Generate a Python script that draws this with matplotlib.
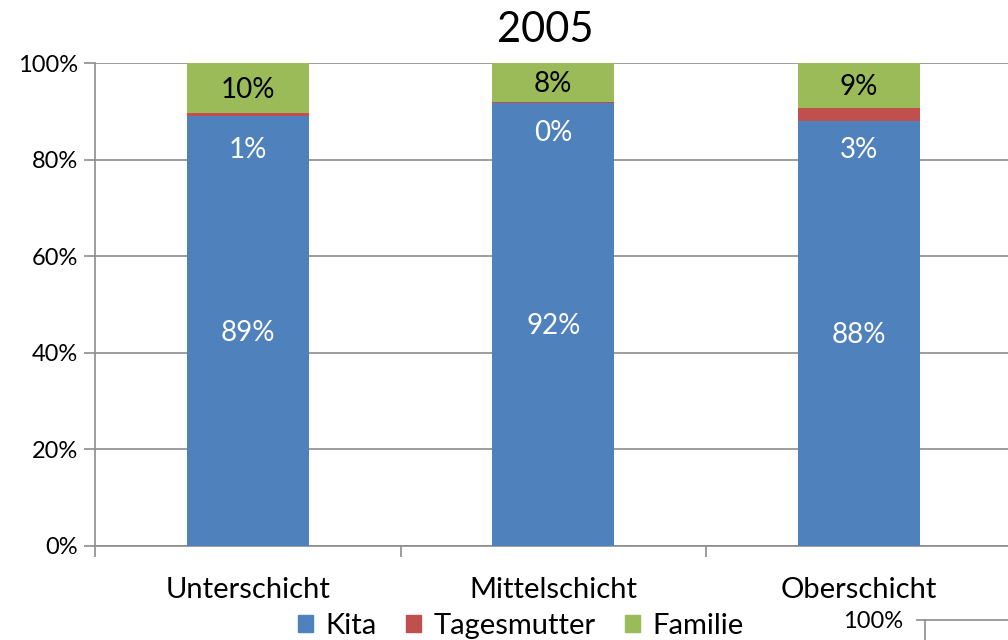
import matplotlib
matplotlib.use("Agg")
import matplotlib.pyplot as plt
from matplotlib.lines import Line2D
from matplotlib.patches import Patch
import numpy as np

plt.rcParams['font.family'] = ['Lato', 'DejaVu Sans']

title = "2005"
categories = ["Unterschicht", "Mittelschicht", "Oberschicht"]
series_names = ["Kita", "Tagesmutter", "Familie"]
kita = [89.0, 91.7, 88.0]
tagesmutter = [0.7, 0.3, 2.7]
familie = [10.3, 8.0, 9.3]
yticks = [0, 20, 40, 60, 80, 100]

colors = ["#4F81BD", "#C0504D", "#9BBB59"]
label_colors = ["white", "white", "black"]
grid_color = "#8C8C8C"

fig = plt.figure(figsize=(10.08, 6.4), dpi=100)
ax = fig.add_axes([95/1008, 1 - 546/640, (1011.5 - 95)/1008, (546 - 63)/640])

x = np.arange(len(categories))
width = 0.4
bottom = np.zeros(len(categories))
series = [kita, tagesmutter, familie]
for vals, name, col, lc in zip(series, series_names, colors, label_colors):
    vals = np.array(vals)
    ax.bar(x, vals, width, bottom=bottom, color=col, label=name, zorder=3)
    centers = bottom + vals / 2
    for i, (xi, c, v) in enumerate(zip(x, centers, vals)):
        if name == "Tagesmutter":
            # small segments: labels pushed down into the Kita segment
            offset = -6.3 if v < 0.5 else -7.3
            ax.text(xi, c + offset, f"{v:.0f}%", ha="center", va="center",
                    color=lc, fontsize=20)
        else:
            ax.text(xi, c - 0.4, f"{v:.0f}%", ha="center", va="center",
                    color=lc, fontsize=20)
    bottom = bottom + vals

ax.set_xlim(-0.5, len(categories) - 0.5)
ax.set_ylim(0, 100)
ax.set_yticks(yticks)
ax.set_yticklabels([f"{t}%" for t in yticks], fontsize=17)
ax.yaxis.grid(True, color=grid_color, linewidth=1.2, zorder=0)
ax.set_axisbelow(True)

ax.set_xticks(x)
ax.set_xticklabels(categories, fontsize=21)
ax.set_xticks(np.arange(-0.5, len(categories)), minor=True)
ax.tick_params(axis="x", which="major", length=0, pad=22)
ax.tick_params(axis="x", which="minor", length=8, color=grid_color, width=1.2)
ax.tick_params(axis="y", length=8, color=grid_color, width=1.2, pad=4)

for s in ["top", "right"]:
    ax.spines[s].set_visible(False)
for s in ["left", "bottom"]:
    ax.spines[s].set_color(grid_color)
    ax.spines[s].set_linewidth(1.2)

fig.text(545/1008, 1 - 30/640, title, ha="center", va="center", fontsize=30)

handles = [Patch(facecolor=c, edgecolor=c) for c in colors]
fig.legend(handles, series_names, loc="center", bbox_to_anchor=(521/1008, 1 - 626/640),
           ncol=3, frameon=False, fontsize=21, handlelength=0.5, handleheight=0.5,
           handletextpad=0.45, columnspacing=1.0, borderpad=0)

# fragment of a neighbouring chart in the lower-right corner
fig.text(873/1008, 1 - 621/640, "100%", ha="center", va="center", fontsize=17)
fig.add_artist(Line2D([917/1008, 1.0], [1 - 620/640, 1 - 620/640],
                      color=grid_color, linewidth=1.2, transform=fig.transFigure))
fig.add_artist(Line2D([925/1008, 925/1008], [0, 1 - 620/640],
                      color=grid_color, linewidth=1.2, transform=fig.transFigure))

fig.savefig("out.png", dpi=100, facecolor="white")
